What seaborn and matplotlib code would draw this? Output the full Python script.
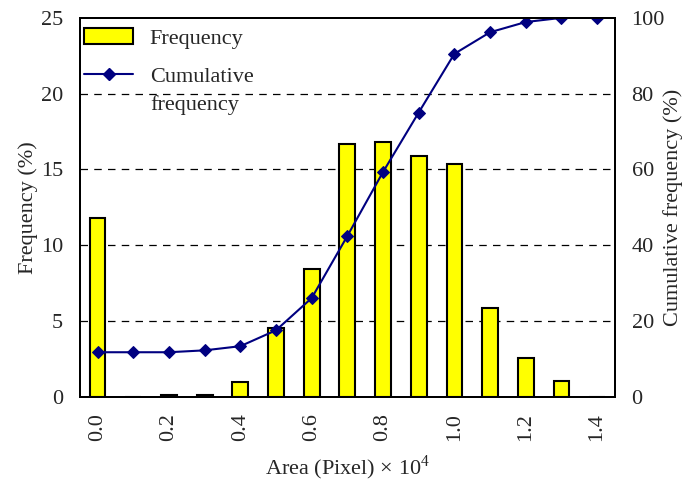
import matplotlib
matplotlib.use("Agg")
import matplotlib.pyplot as plt
import seaborn as sns
import numpy as np
import pandas as pd
from matplotlib.patches import Patch
from matplotlib.lines import Line2D
from matplotlib.transforms import ScaledTranslation

# Area bins (x 10^4 pixels)
areas = ["0.0", "0.1", "0.2", "0.3", "0.4", "0.5", "0.6", "0.7",
         "0.8", "0.9", "1.0", "1.1", "1.2", "1.3", "1.4"]
frequency = [11.8, 0.0, 0.1, 0.1, 0.95, 4.5, 8.45, 16.7,
             16.8, 15.9, 15.35, 5.85, 2.55, 1.05, 0.0]
cumulative = [11.7, 11.7, 11.7, 12.2, 13.3, 17.5, 26.0, 42.4,
              59.3, 75.0, 90.5, 96.2, 98.9, 100.0, 100.0]
xtick_labels = ["0.0", "0.2", "0.4", "0.6", "0.8", "1.0", "1.2", "1.4"]

sns.set_style("white")
plt.rcParams["font.family"] = ["Liberation Serif", "DejaVu Serif"]
plt.rcParams["mathtext.fontset"] = "custom"
plt.rcParams["mathtext.rm"] = "Liberation Serif"
FS = 16

df = pd.DataFrame({"area": areas, "frequency": frequency, "cumulative": cumulative})
df["pos"] = np.arange(len(df))

fig, ax = plt.subplots(figsize=(6.94, 4.83), dpi=100)
fig.subplots_adjust(left=0.115, right=0.886, top=0.963, bottom=0.179)

sns.barplot(data=df, x="area", y="frequency", order=areas, color="#ffff00",
            edgecolor="black", linewidth=1.5, width=0.44, saturation=1, ax=ax)
ax.set_xlim(-0.5, len(areas) - 0.5)
ax.set_ylim(0, 25)
ax.set_yticks([0, 5, 10, 15, 20, 25])
ax.set_xticks([i for i, a in enumerate(areas) if a in xtick_labels])
ax.set_xticklabels(xtick_labels, rotation=90)
for y in [5, 10, 15, 20]:
    ax.axhline(y, color="black", linestyle=(0, (6, 5)), linewidth=0.9, zorder=0)
ax.set_xlabel("Area (Pixel) $\\times$ 10$^4$", fontsize=FS, labelpad=9)
ax.set_ylabel("Frequency (%)", fontsize=FS, labelpad=2)
ax.tick_params(axis="both", length=0, labelsize=FS)
ax.tick_params(axis="x", pad=12)
ax.tick_params(axis="y", pad=12)

ax2 = ax.twinx()
sns.lineplot(data=df, x="pos", y="cumulative", color="#000080", marker="D",
             markersize=6, markeredgecolor="#000080", linewidth=1.5, ax=ax2)
ax2.set_ylim(0, 100)
ax2.set_yticks([0, 20, 40, 60, 80, 100])
ax2.set_xlim(-0.5, len(areas) - 0.5)
ax2.set_ylabel("Cumulative frequency (%)", fontsize=FS, labelpad=-1)
ax2.tick_params(axis="y", length=0, labelsize=FS, pad=12)

for a in (ax, ax2):
    for s in a.spines.values():
        s.set_color("black")
        s.set_linewidth(1.4)

handles = [Patch(facecolor="#ffff00", edgecolor="black", linewidth=1.5),
           Line2D([0], [0], color="#000080", marker="D", markersize=6, linewidth=1.5)]
leg = ax2.legend(handles, ["Frequency", "Cumulative"], loc="upper left",
                 bbox_to_anchor=(0, 0.985), frameon=False, fontsize=FS,
                 handlelength=2.2, borderaxespad=0, borderpad=0.2,
                 labelspacing=0.8, handletextpad=0.75)

# second line of the "Cumulative frequency" legend label
fig.canvas.draw()
bb = leg.get_texts()[1].get_window_extent()
fig.text(bb.x0 / fig.dpi / fig.get_figwidth(), bb.y0 / fig.dpi / fig.get_figheight(),
         "frequency", fontsize=FS, va="bottom", ha="left",
         transform=fig.transFigure + ScaledTranslation(0, -28 / fig.dpi, fig.dpi_scale_trans))

fig.savefig("out.png", dpi=100)
